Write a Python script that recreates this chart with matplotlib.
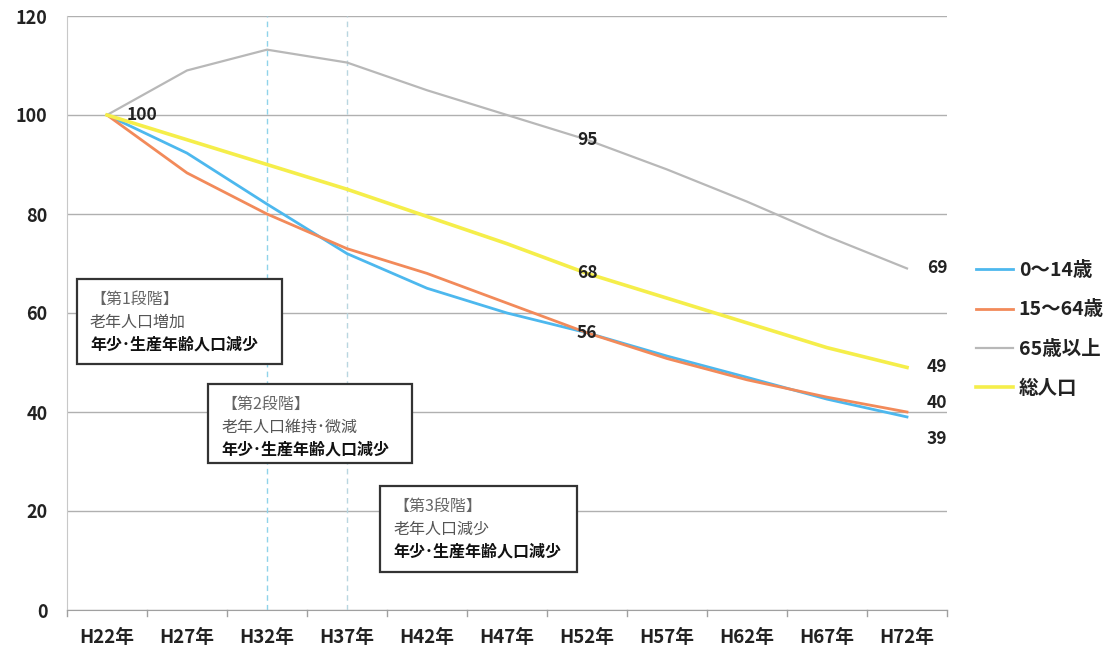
import matplotlib
matplotlib.use("Agg")
import matplotlib.pyplot as plt
from matplotlib.patches import Rectangle

plt.rcParams['font.family'] = ['Noto Sans CJK JP', 'DejaVu Sans']

W, H = 1118, 654

years = ['H22年', 'H27年', 'H32年', 'H37年', 'H42年', 'H47年',
         'H52年', 'H57年', 'H62年', 'H67年', 'H72年']
child = [100, 92.3, 82, 72, 65, 60, 56, 51.3, 47, 42.6, 39]
working = [100, 88.3, 80, 73, 68, 62, 56, 50.8, 46.5, 43, 40]
elderly = [100, 109, 113.2, 110.6, 105, 100, 95, 89, 82.5, 75.5, 69]
total = [100, 95, 90, 85, 79.5, 74, 68, 63, 58, 53, 49]

names = ['0～14歳', '15～64歳', '65歳以上', '総人口']
colors = ['#4db8ee', '#f28a5a', '#b8b8b8', '#f5ee4a']
widths = [2.0, 2.0, 1.6, 2.6]

fig = plt.figure(figsize=(W / 100, H / 100), dpi=100)
ax = fig.add_axes([67 / W, 1 - 610 / H, (947 - 67) / W, (610 - 16) / H])

x = list(range(len(years)))
series = [child, working, elderly, total]
for vals, name, c, lw in zip(series, names, colors, widths):
    ax.plot(x, vals, color=c, lw=lw, label=name, zorder=3)

ax.set_xlim(-0.5, len(years) - 0.5)
ax.set_ylim(0, 120)
ax.set_yticks(range(0, 121, 20))
ax.set_xticks(x)
ax.set_xticklabels(years)
ax.grid(axis='y', color='#b0b0b0', lw=1.0)
ax.set_axisbelow(True)
for s in ['top', 'right']:
    ax.spines[s].set_visible(False)
ax.spines['left'].set_color('#c8c8c8')
ax.spines['bottom'].set_color('#a0a0a0')
ax.tick_params(axis='y', length=0, pad=14, labelsize=13)
ax.tick_params(axis='x', length=0, pad=13, labelsize=13.5)
for t in ax.get_xticklabels() + ax.get_yticklabels():
    t.set_fontweight('bold')
    t.set_color('#222222')

# category boundary ticks on the x axis
for b in range(len(years) + 1):
    ax.plot([b - 0.5, b - 0.5], [0, -1.2], color='#a0a0a0', lw=1, clip_on=False)

# stage dividers
ax.axvline(2, color='#8fd3ea', lw=1, ls=(0, (4, 3)), zorder=1)
ax.axvline(3, color='#b9d6e0', lw=1, ls=(0, (4, 3)), zorder=1)

# value labels
lab = dict(fontsize=12.5, fontweight='bold', color='#222222', zorder=5)
ax.text(0.25, child[0], '100', ha='left', va='center', **lab)
ax.text(6, elderly[6], '95', ha='center', va='center', **lab)
ax.text(6, total[6], '68', ha='center', va='center', **lab)
ax.text(6, child[6], '56', ha='center', va='center', **lab)
ax.text(10.25, elderly[10], '69', ha='left', va='center', **lab)
ax.text(10.25, total[10], '49', ha='left', va='center', **lab)
ax.text(10.25, working[10] + 1.8, '40', ha='left', va='center', **lab)
ax.text(10.25, child[10] - 4.5, '39', ha='left', va='center', **lab)

# legend
leg = ax.legend(loc='upper left', bbox_to_anchor=((976 - 67) / 880, (610 - 261) / 594),
                frameon=False, borderaxespad=0, borderpad=0,
                handlelength=1.9, handletextpad=0.3, labelspacing=1.05,
                prop={'size': 14, 'weight': 'bold'})
for t in leg.get_texts():
    t.set_color('#222222')

# stage boxes (pixel boxes)
stages = [
    ('【第1段階】', '老年人口増加', (77, 279, 282, 364)),
    ('【第2段階】', '老年人口維持･微減', (208, 384, 412, 463)),
    ('【第3段階】', '老年人口減少', (380, 486, 577, 572)),
]
for head, line2, (x0, y0, x1, y1) in stages:
    fig.patches.append(Rectangle((x0 / W, 1 - y1 / H), (x1 - x0) / W, (y1 - y0) / H,
                                 transform=fig.transFigure, fill=True, facecolor='white',
                                 edgecolor='#333333', lw=1.6, zorder=4))
    tx = (x0 + 13) / W
    fig.text(tx, 1 - (y0 + 20) / H, head, fontsize=11.5, color='#666666', va='center', zorder=6)
    fig.text(tx, 1 - (y0 + 43) / H, line2, fontsize=11.5, color='#555555', va='center', zorder=6)
    fig.text(tx, 1 - (y0 + 66) / H, '年少･生産年齢人口減少', fontsize=11.5, color='#111111',
             fontweight='bold', va='center', zorder=6)

fig.savefig('out.png', dpi=100)
